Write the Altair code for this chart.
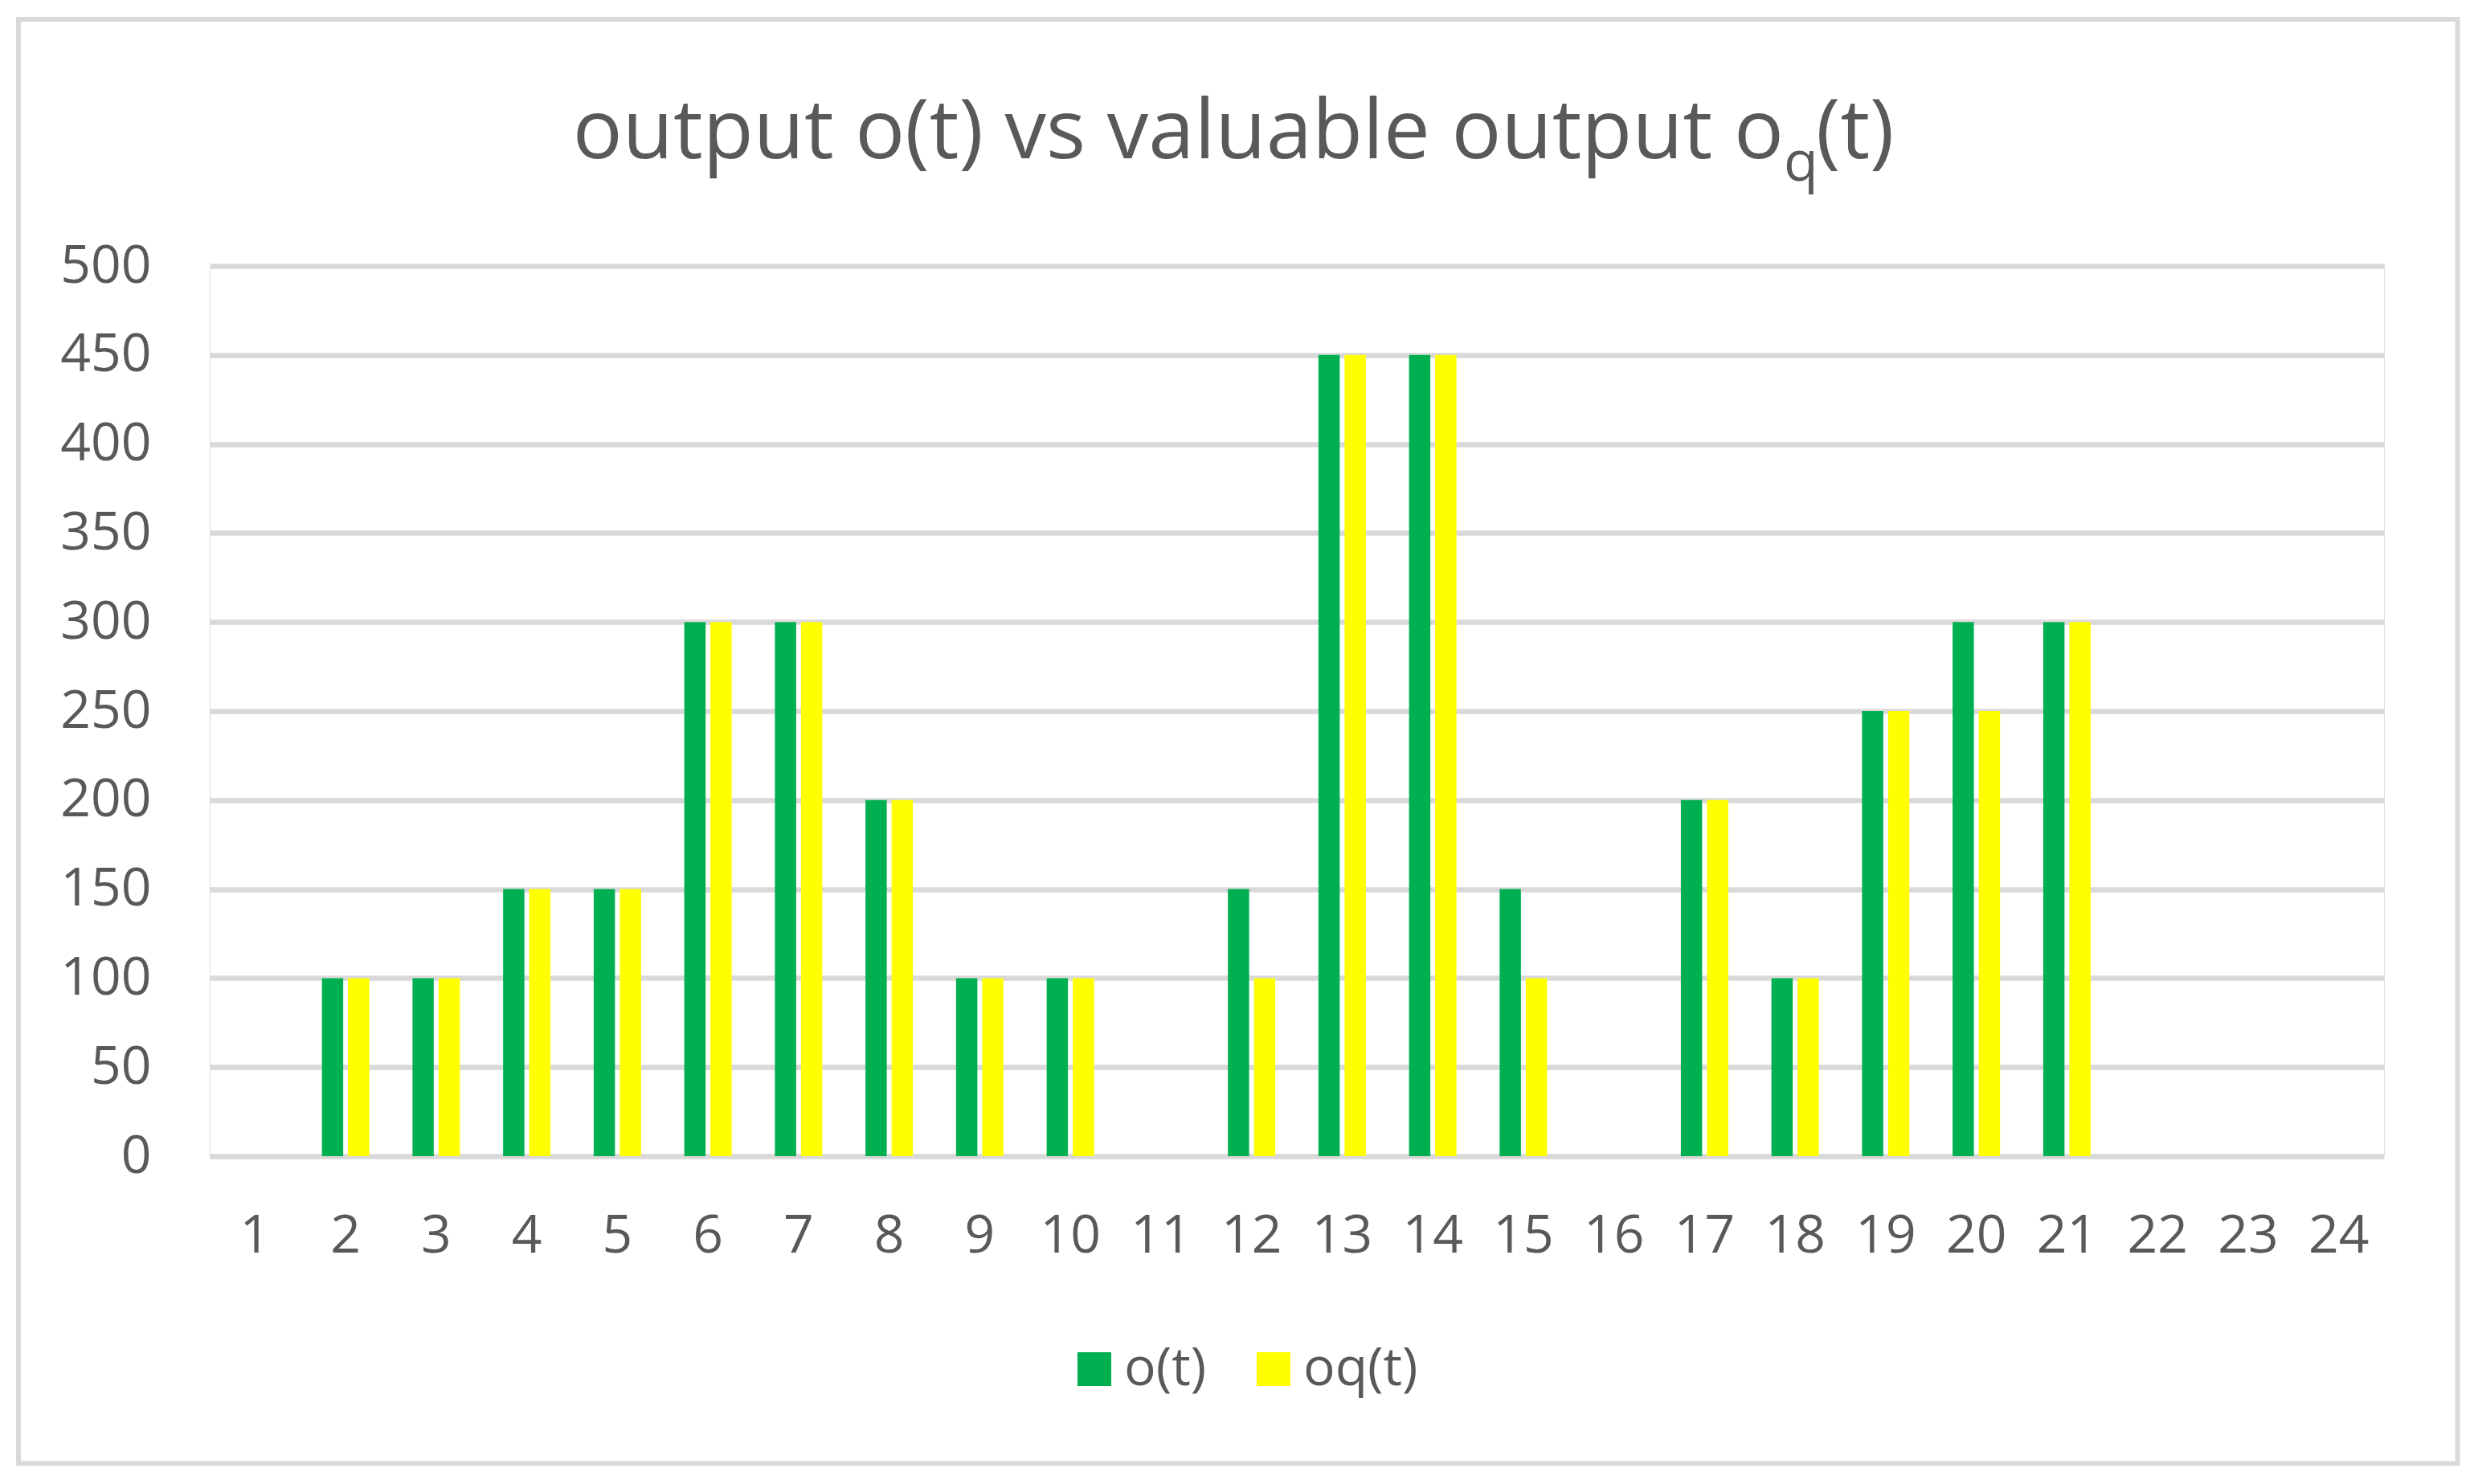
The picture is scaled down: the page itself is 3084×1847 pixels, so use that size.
import altair as alt
import pandas as pd

# ---- data ----
periods = list(range(1, 25))
o_t = [0, 100, 100, 150, 150, 300, 300, 200, 100, 100, 0, 150,
       450, 450, 150, 0, 200, 100, 250, 300, 300, 0, 0, 0]
oq_t = [0, 100, 100, 150, 150, 300, 300, 200, 100, 100, 0, 100,
        450, 450, 100, 0, 200, 100, 250, 250, 300, 0, 0, 0]
series_names = ["o(t)", "oq(t)"]
series_colors = ["#00B050", "#FFFF00"]
y_ticks = [0, 50, 100, 150, 200, 250, 300, 350, 400, 450, 500]

rows = []
for t, a, b in zip(periods, o_t, oq_t):
    rows.append({"t": t, "series": series_names[0], "value": a})
    rows.append({"t": t, "series": series_names[1], "value": b})
df = pd.DataFrame(rows)

FONT = "Open Sans"
TXT = "#595959"
GRID = "#D9D9D9"
W, H = 2706, 1108

bars = alt.Chart(df).mark_bar().encode(
    x=alt.X("t:O", sort=periods,
            scale=alt.Scale(paddingInner=0.477, paddingOuter=0.2385),
            axis=alt.Axis(title=None, labelAngle=0, labelFont=FONT, labelFontSize=66,
                          labelColor=TXT, ticks=False, tickSize=0, domain=False,
                          labelBaseline="alphabetic", labelPadding=119, grid=False)),
    xOffset=alt.XOffset("series:N", scale=alt.Scale(domain=series_names, paddingInner=0.185,
                                                    paddingOuter=0)),
    y=alt.Y("value:Q", scale=alt.Scale(domain=[0, 500], nice=False),
            axis=alt.Axis(title=None, values=y_ticks, labelFont=FONT, labelFontSize=66,
                          labelColor=TXT, ticks=False, tickSize=0, domain=False,
                          labelPadding=73, grid=True, gridColor=GRID, gridWidth=6.5)),
    color=alt.Color("series:N",
                    scale=alt.Scale(domain=series_names, range=series_colors),
                    legend=alt.Legend(title=None, orient="none", direction="horizontal",
                                      legendX=1068, legendY=1340,
                                      symbolType="square", symbolSize=1764,
                                      symbolStrokeWidth=0, labelFont=FONT,
                                      labelFontSize=66, labelColor=TXT,
                                      labelOffset=4, columnPadding=50)),
)

one = pd.DataFrame({"k": [0]})
title_main = alt.Chart(one).mark_text(
    text="output o(t) vs valuable output o", font=FONT, fontSize=103, color=TXT,
    align="right", baseline="alphabetic"
).encode(x=alt.value(1959), y=alt.value(-134))
title_sub = alt.Chart(one).mark_text(
    text="q", font=FONT, fontSize=70, color=TXT, align="left", baseline="alphabetic"
).encode(x=alt.value(1959), y=alt.value(-106))
title_end = alt.Chart(one).mark_text(
    text="(t)", font=FONT, fontSize=103, color=TXT, align="left", baseline="alphabetic"
).encode(x=alt.value(1999), y=alt.value(-134))

border = alt.Chart(one).mark_rect(
    fillOpacity=0, stroke=GRID, strokeWidth=6
).encode(x=alt.value(-238), x2=alt.value(2797.5), y=alt.value(-307), y2=alt.value(1490.5))

chart = alt.layer(border, bars, title_main, title_sub, title_end).properties(
    width=W, height=H,
    autosize=alt.AutoSizeParams(type="none"),
    padding={"left": 253, "top": 323, "right": 97, "bottom": 387},
).configure_view(stroke=None).configure(background="white")

chart.save("out.html", embed_options={"renderer": "svg", "actions": False})
